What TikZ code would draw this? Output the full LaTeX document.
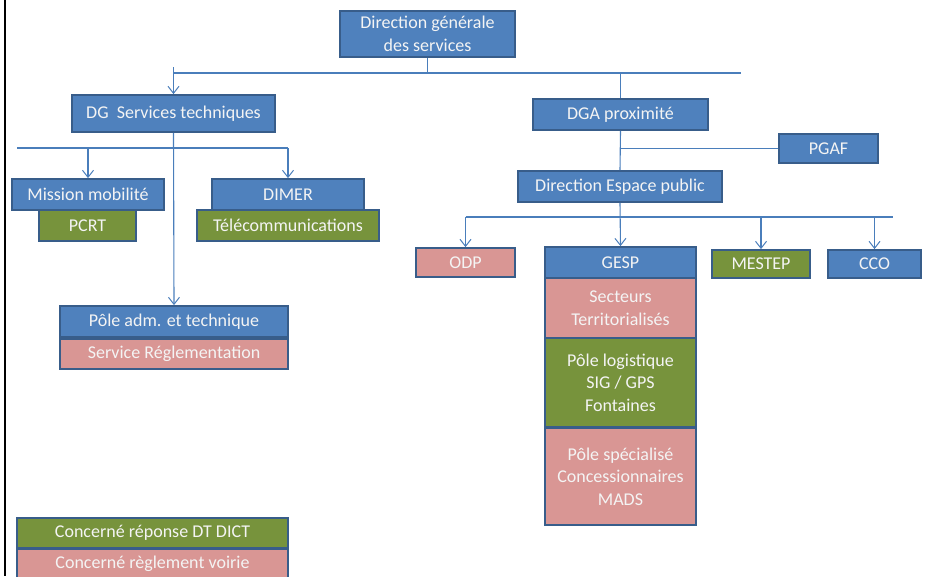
\documentclass[tikz,border=0pt]{standalone}
\usepackage{fontspec}
\setmainfont{Carlito}
\usetikzlibrary{arrows.meta}
\definecolor{boxblue}{HTML}{4F81BD}
\definecolor{boxgreen}{HTML}{77933C}
\definecolor{boxpink}{HTML}{D99694}
\definecolor{boxedge}{HTML}{385D8A}
\definecolor{linkblue}{HTML}{4A7EBB}
\definecolor{unittext}{HTML}{F4F4F4}
\tikzset{
  unit/.style={draw=boxedge, line width=1.8pt, text=unittext, inner sep=0pt, align=center,
    font=\fontsize{18}{22.5}\selectfont},
  blueunit/.style={unit, fill=boxblue},
  greenunit/.style={unit, fill=boxgreen},
  pinkunit/.style={unit, fill=boxpink},
  link/.style={draw=linkblue, line width=1.1pt},
  arrowlink/.style={link, -{Straight Barb[length=7pt,width=11pt,line width=1pt]}},
}
\begin{document}
\begin{tikzpicture}[x=1pt,y=-1pt]
            \useasboundingbox (0,0) rectangle (949,576);
            \draw[line width=2pt] (5,0) -- (5,576); % left frame

            \node [blueunit, minimum width=175, minimum height=46] (dgs) at (427.5,34) {Direction générale\\des services};

            \node [blueunit, minimum width=203, minimum height=37] (dgst) at (173.5,113.5) {DG\ \ Services techniques};
            \node [blueunit, minimum width=152, minimum height=31] (mm) at (88,194.5) {Mission mobilité};
            \node [greenunit, minimum width=97, minimum height=31] (pcrt) at (87.5,225.5) {PCRT};
            \node [blueunit, minimum width=152, minimum height=31] (dimer) at (288,194.5) {DIMER};
            \node [greenunit, minimum width=182, minimum height=31] (telecom) at (288,225.5) {Télécommunications};
            \node [blueunit, minimum width=228, minimum height=31] (pat) at (174,321.5) {Pôle adm. et technique};
            \node [pinkunit, minimum width=228, minimum height=30] (sreg) at (174,354) {Service Réglementation};

            \node [blueunit, minimum width=175, minimum height=31] (dga) at (620.5,114.5) {DGA proximité};
            \node [blueunit, minimum width=99, minimum height=29] (pgaf) at (828.5,148.5) {PGAF};
            \node [blueunit, minimum width=204, minimum height=31] (dep) at (620,186.5) {Direction Espace public};
            \node [pinkunit, minimum width=99, minimum height=29] (odp) at (465.5,262.5) {ODP};
            \node [blueunit, minimum width=151, minimum height=31] (gesp) at (620.5,262.5) {GESP};
            \node [pinkunit, minimum width=151, minimum height=60] (sect) at (620.5,308) {Secteurs\\Territorialisés};
            \node [greenunit, minimum width=151, minimum height=89] (plog) at (620.5,382.5) {Pôle logistique\\SIG / GPS\\Fontaines};
            \node [pinkunit, minimum width=151, minimum height=97] (pspe) at (620.5,476.5) {Pôle spécialisé\\Concessionnaires\\MADS};
            \node [greenunit, minimum width=98, minimum height=28] (mestep) at (761,264) {MESTEP};
            \node [blueunit, minimum width=93, minimum height=28] (cco) at (874.5,264) {CCO};

            \node [greenunit, minimum width=271, minimum height=30] (legdt) at (152.5,533) {Concerné réponse DT DICT};
            \node [pinkunit, minimum width=271, minimum height=30] (legvoirie) at (152.5,564) {Concerné règlement voirie};

            % top level bus
            \coordinate (busa) at (173.5,73);
            \coordinate (busb) at (741,73);
            \coordinate (busa0) at (173.5,67);
            \draw [link] (busa) -- (busb);
            \draw [link] (dgs.south) -- (dgs.south |- busa);
            \draw [arrowlink] (busa0) -- (dgst.north);
            \draw [link] (dga.north |- busa) -- (dga.north);

            % DG Services techniques
            \coordinate (busc) at (17,148);
            \coordinate (busd) at (288,148);
            \draw [link] (busc) -- (busd);
            \draw [arrowlink] (mm.north |- busc) -- (mm.north);
            \draw [arrowlink] (busd) -- (dimer.north);
            \draw [arrowlink] (dgst.south) -- (pat.north);

            % DGA proximite
            \draw [link] (dga.south) -- (dep.north);
            \draw [link] (dga.south |- pgaf.west) -- (pgaf.west);

            % Direction Espace public
            \coordinate (buse) at (465.5,217);
            \coordinate (busf) at (893,217);
            \draw [link] (buse) -- (busf);
            \draw [arrowlink] (buse) -- (odp.north);
            \draw [arrowlink] (dep.south) -- (gesp.north);
            \draw [arrowlink] (mestep.north |- buse) -- (mestep.north);
            \draw [arrowlink] (cco.north |- buse) -- (cco.north);
        \end{tikzpicture}
\end{document}
